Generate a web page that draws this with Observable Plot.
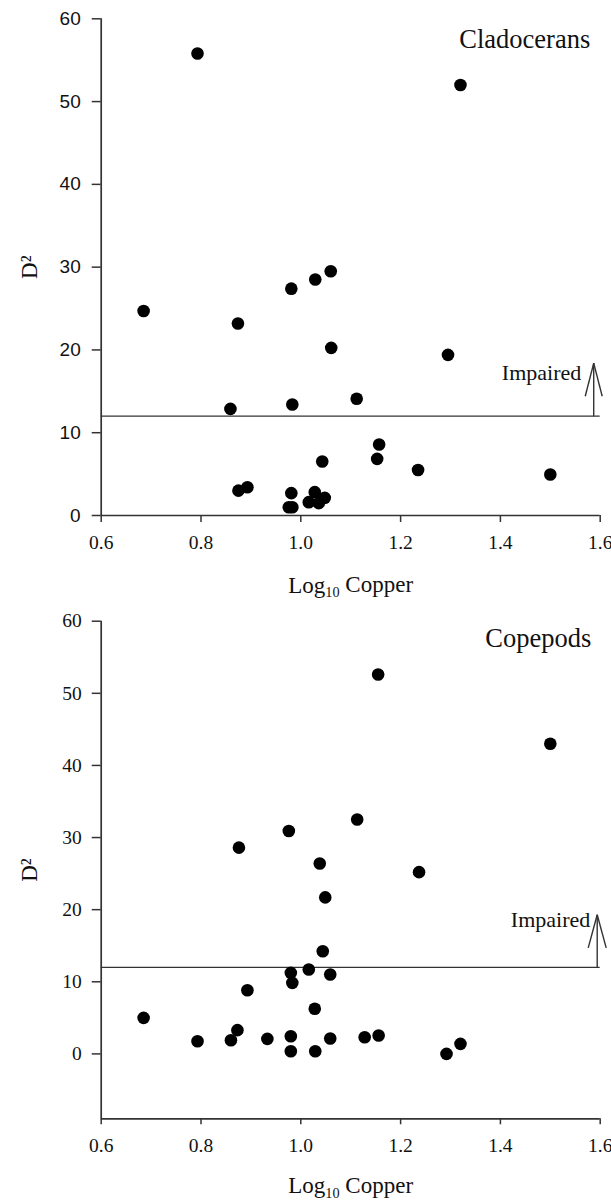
<!DOCTYPE html>
<html>
<head>
<meta charset="utf-8">
<script src="https://cdn.jsdelivr.net/npm/d3@7"></script>
<script src="https://cdn.jsdelivr.net/npm/@observablehq/plot@0.6"></script>
<style>
  html, body { margin: 0; padding: 0; background: #fff; }
  #chart svg { display: block; }
</style>
</head>
<body>
<div id="chart"></div>
<script>
// ---- data ----
const xTicks = [0.6, 0.8, 1.0, 1.2, 1.4, 1.6];
const yTicks = [0, 10, 20, 30, 40, 50, 60];
const impairedThreshold = 12;

const cladoceransCopper = [0.793, 1.320, 0.981, 1.029, 1.060, 0.685, 0.874, 1.061, 1.295, 0.859, 0.983, 1.112, 1.157, 1.153, 1.043, 1.235, 1.500, 0.875, 0.893, 0.981, 0.976, 0.983, 1.016, 1.028, 1.036, 1.048];
const cladoceransD2     = [55.8, 52.0, 27.4, 28.5, 29.5, 24.7, 23.2, 20.25, 19.4, 12.88, 13.4, 14.1, 8.57, 6.84, 6.52, 5.5, 4.95, 3.0, 3.42, 2.7, 1.0, 1.0, 1.61, 2.82, 1.49, 2.13];

const copepodsCopper = [1.155, 1.500, 1.113, 0.976, 0.876, 1.038, 1.237, 1.049, 1.044, 0.980, 1.016, 1.059, 0.983, 0.893, 1.028, 0.685, 0.873, 0.793, 0.860, 0.933, 0.980, 1.059, 1.128, 1.156, 0.980, 1.029, 1.292, 1.320];
const copepodsD2     = [52.6, 43.0, 32.5, 30.9, 28.6, 26.4, 25.2, 21.7, 14.24, 11.24, 11.7, 11.0, 9.85, 8.83, 6.25, 5.0, 3.29, 1.76, 1.9, 2.08, 2.45, 2.13, 2.3, 2.55, 0.37, 0.37, 0.0, 1.39];

const panels = [
  {
    name: "Cladocerans", copper: cladoceransCopper, d2: cladoceransD2,
    yDomain: [0, 60], height: 610, marginTop: 18.3, marginBottom: 95,
    yFont: "'Liberation Sans', Arial, sans-serif", yFontSize: 19, yPad: 11.5, xTickSize: 7,
    labelDy: 77,
    nameX: 1.58, nameY: 56.45,
    impairedX: 1.562, impairedY: 16.4,
    arrowX: 1.587, arrowTop: 18.4, wingBottom: 14.4, wingHalf: 0.017
  },
  {
    name: "Copepods", copper: copepodsCopper, d2: copepodsD2,
    yDomain: [-9, 60], height: 593, marginTop: 10.7, marginBottom: 84.7,
    yFont: "'Liberation Serif', 'Times New Roman', serif", yFontSize: 19.5, yPad: 10.5, xTickSize: 6,
    labelDy: 74.5,
    nameX: 1.582, nameY: 56.4,
    impairedX: 1.58, impairedY: 17.6,
    arrowX: 1.594, arrowTop: 19.3, wingBottom: 14.7, wingHalf: 0.018
  }
];

const serif = "'Liberation Serif', 'Times New Roman', serif";
const ink = "#111";
const axisInk = "#333";

function makePanel(p) {
  const pts = p.copper.map((c, i) => ({copper: c, d2: p.d2[i]}));
  const wings = [
    {x1: p.arrowX - p.wingHalf, y1: p.wingBottom, x2: p.arrowX, y2: p.arrowTop},
    {x1: p.arrowX + p.wingHalf, y1: p.wingBottom, x2: p.arrowX, y2: p.arrowTop}
  ];
  const svg = Plot.plot({
    width: 611,
    height: p.height,
    marginTop: p.marginTop,
    marginBottom: p.marginBottom,
    marginLeft: 100.7,
    marginRight: 11.3,
    style: {fontFamily: serif, fontSize: "19px", color: ink, background: "#fff"},
    x: {domain: [0.6, 1.6], label: null},
    y: {domain: p.yDomain, label: null},
    marks: [
      Plot.axisX({ticks: xTicks, tickFormat: d => d.toFixed(1), tickSize: p.xTickSize, tickPadding: 13, fontSize: 19.5, fontFamily: serif, stroke: axisInk, strokeWidth: 1.5, label: null}),
      Plot.axisY({ticks: yTicks, tickSize: 9, tickPadding: p.yPad, fontSize: p.yFontSize, fontFamily: p.yFont, stroke: axisInk, strokeWidth: 1.5, label: null}),
      Plot.ruleX([0.6], {y1: p.yDomain[0], y2: 60, stroke: axisInk, strokeWidth: 1.7}),
      Plot.ruleY([p.yDomain[0]], {x1: 0.6, x2: 1.6, stroke: axisInk, strokeWidth: 1.7}),
      Plot.ruleY([impairedThreshold], {x1: 0.6, x2: 1.6, stroke: axisInk, strokeWidth: 1.4}),
      Plot.link([{x: p.arrowX}], {x1: "x", x2: "x", y1: impairedThreshold, y2: p.arrowTop, stroke: axisInk, strokeWidth: 1.4}),
      Plot.link(wings, {x1: "x1", y1: "y1", x2: "x2", y2: "y2", stroke: axisInk, strokeWidth: 1.4}),
      Plot.dot(pts, {x: "copper", y: "d2", r: 6.3, fill: "#000", stroke: null}),
      Plot.text([p.name], {text: d => d, x: p.nameX, y: p.nameY, textAnchor: "end", lineAnchor: "bottom", fontSize: 26.5, fontFamily: serif, fill: ink}),
      Plot.text(["Impaired"], {text: d => d, x: p.impairedX, y: p.impairedY, textAnchor: "end", lineAnchor: "bottom", fontSize: 22, fontFamily: serif, fill: ink}),
      Plot.text(["D²"], {text: d => d, frameAnchor: "left", rotate: -90, dx: -64, textAnchor: "middle", lineAnchor: "bottom", fontSize: 23, fontFamily: serif, fill: ink}),
      Plot.text(["Log10 Copper"], {text: d => d, frameAnchor: "bottom", dy: p.labelDy, textAnchor: "middle", lineAnchor: "bottom", fontSize: 23, fontFamily: serif, fill: ink})
    ]
  });
  // subscript the "10" in the axis title
  d3.select(svg).selectAll("text").filter(function() { return this.textContent === "Log10 Copper"; })
    .each(function() {
      const t = d3.select(this);
      t.text(null);
      t.append("tspan").text("Log");
      t.append("tspan").attr("font-size", "0.62em").attr("dy", "0.32em").text("10");
      t.append("tspan").attr("dy", "-0.2em").text(" Copper");
    });
  return svg;
}

const root = document.getElementById("chart");
for (const p of panels) root.appendChild(makePanel(p));
</script>
</body>
</html>
